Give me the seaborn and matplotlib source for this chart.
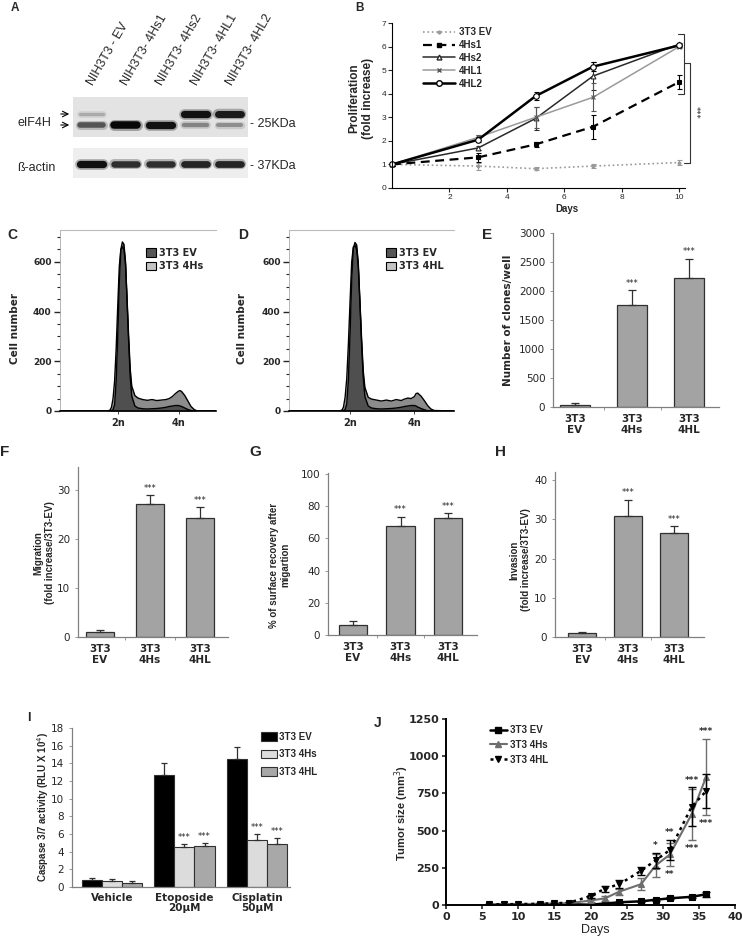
import numpy as np
import pandas as pd
import seaborn as sns
import matplotlib.pyplot as plt
from matplotlib.lines import Line2D
from matplotlib.patches import Patch
from matplotlib.ticker import MultipleLocator

# ---------------- data ----------------
# A: western blot, band intensity (0-1) per lane
blot_lanes = ['NIH3T3 - EV', 'NIH3T3- 4Hs1', 'NIH3T3- 4Hs2', 'NIH3T3- 4HL1', 'NIH3T3- 4HL2']
eif_upper = [0.15, 0.0, 0.0, 0.95, 0.9]
eif_lower = [0.6, 1.0, 0.95, 0.35, 0.3]
actin_band = [0.95, 0.8, 0.8, 0.85, 0.85]

# B: proliferation (fold increase)
prolif_days = [0, 3, 5, 7, 10]
prolif_ev = [1.0, 0.93, 0.82, 0.93, 1.08]
prolif_hs1 = [1.0, 1.3, 1.85, 2.6, 4.5]
prolif_hs2 = [1.0, 1.7, 2.95, 4.75, 6.1]
prolif_hl1 = [1.0, 2.15, 3.0, 3.85, 6.0]
prolif_hl2 = [1.0, 2.05, 3.9, 5.15, 6.05]
err_ev = [0.05, 0.15, 0.06, 0.08, 0.12]
err_hs1 = [0.05, 0.2, 0.12, 0.5, 0.3]
err_hs2 = [0.05, 0.08, 0.5, 0.6, 0.07]
err_hl1 = [0.05, 0.1, 0.45, 0.6, 0.08]
err_hl2 = [0.05, 0.1, 0.18, 0.2, 0.05]
prolif_names = ['3T3 EV', '4Hs1', '4Hs2', '4HL1', '4HL2']

# C, D: cell cycle profiles (DNA content channel -> cell number)
dna_channel = [0, 30, 32, 33, 34, 35, 36, 37, 38, 39, 40, 41, 42, 43, 44, 45, 46, 48, 50,
               53, 56, 59, 62, 65, 68, 70, 72, 74, 76, 77, 78, 80, 82, 84, 86, 88, 100]
cc_ev_c = [0, 0, 0, 2, 5, 25, 120, 300, 520, 650, 680, 670, 600, 440, 280, 140, 60, 20, 12,
           9, 8, 9, 10, 12, 15, 18, 20, 22, 22, 20, 18, 12, 6, 2, 0, 0, 0]
cc_hs = [0, 0, 3, 15, 50, 120, 250, 420, 580, 650, 660, 650, 590, 450, 300, 170, 100, 62, 52,
         46, 43, 46, 42, 44, 46, 50, 58, 70, 80, 82, 78, 62, 40, 18, 6, 0, 0]
cc_ev_d = [0, 0, 0, 2, 6, 28, 125, 310, 530, 655, 678, 668, 595, 430, 270, 135, 58, 20, 12,
           9, 8, 9, 10, 12, 15, 18, 20, 22, 22, 20, 16, 10, 5, 1, 0, 0, 0]
cc_hl = [0, 0, 3, 15, 55, 130, 270, 440, 600, 660, 665, 650, 580, 440, 290, 160, 95, 55, 48,
         44, 40, 44, 40, 46, 42, 48, 52, 50, 58, 70, 72, 60, 42, 22, 8, 2, 0]
cc_ticks = [37, 76]
cc_ticklabels = ['2n', '4n']

# E-H: bar panels
bar_labels = ['3T3\nEV', '3T3\n4Hs', '3T3\n4HL']
clones = [40, 1750, 2220]
clones_err = [30, 260, 330]
migration = [1.0, 27.0, 24.2]
migration_err = [0.4, 1.8, 2.2]
recovery = [6.5, 67.5, 72.5]
recovery_err = [2.0, 6.0, 3.0]
invasion = [1.0, 31.0, 26.5]
invasion_err = [0.3, 4.0, 1.7]
bar_stars = ['', '***', '***']

# I: caspase 3/7 activity
casp_groups = ['Vehicle', 'Etoposide\n20µM', 'Cisplatin\n50µM']
casp_lines = ['3T3 EV', '3T3 4Hs', '3T3 4HL']
casp_ev = [0.75, 12.7, 14.5]
casp_hs = [0.65, 4.5, 5.35]
casp_hl = [0.5, 4.6, 4.9]
casp_ev_err = [0.25, 1.35, 1.3]
casp_hs_err = [0.3, 0.35, 0.65]
casp_hl_err = [0.15, 0.35, 0.65]
casp_stars = ['', '***', '***']

# J: tumor growth
tumor_days = [6, 8, 10, 13, 15, 17, 20, 22, 24, 27, 29, 31, 34, 36]
tumor_ev = [0, 2, 3, 3, 4, 5, 2, 10, 18, 25, 35, 45, 55, 72]
tumor_hs = [5, 5, 6, 8, 10, 12, 30, 45, 90, 140, 265, 340, 610, 860]
tumor_hl = [5, 5, 6, 8, 12, 15, 60, 110, 140, 230, 300, 370, 660, 765]
tumor_ev_err = [0, 0, 0, 0, 0, 0, 0, 3, 4, 5, 6, 6, 8, 15]
tumor_hs_err = [2, 2, 2, 3, 4, 5, 10, 15, 20, 40, 80, 80, 170, 255]
tumor_hl_err = [2, 2, 2, 3, 4, 5, 10, 20, 25, 28, 50, 68, 130, 115]
tumor_sig_days = [29, 31, 34, 36]
tumor_sig_up = ['*', '**', '***', '***']
tumor_sig_down = ['', '**', '***', '***']

# ---------------- figure ----------------
sns.set_style('ticks')
plt.rcParams['font.family'] = ['DejaVu Sans']
ARIAL = ['Liberation Sans', 'DejaVu Sans']

W, H = 743, 940
fig = plt.figure(figsize=(W / 100, H / 100), dpi=100)


def box(x0, y0, x1, y1):
    return fig.add_axes([x0 / W, 1 - y1 / H, (x1 - x0) / W, (y1 - y0) / H])


over = fig.add_axes([0, 0, 1, 1], zorder=10)
over.set_xlim(0, W)
over.set_ylim(H, 0)
over.axis('off')


def txt(x, y, s, size=8, weight='normal', family=ARIAL, rot=0, ha='center', va='center'):
    over.text(x, y, s, fontsize=size, fontweight=weight, family=family, rotation=rot,
              ha=ha, va=va, linespacing=1.15)


def anchor(px, py):
    return dict(bbox_to_anchor=(px / W, 1 - py / H), bbox_transform=fig.transFigure)


# panel letters
for letter, x, y, size in [('A', 15, 8, 8.5), ('B', 360, 8, 8.5), ('C', 12, 235, 10),
                           ('D', 243, 235, 10), ('E', 487, 235, 11), ('F', 5, 452, 11),
                           ('G', 255, 452, 11), ('H', 500, 452, 11), ('I', 29, 718, 9),
                           ('J', 378, 723, 10)]:
    txt(x, y, letter, size=size, weight='bold')

# ---- A: western blot
axA1 = box(73, 97, 248, 137)
axA2 = box(73, 148, 248, 178)
for ax, bands, bg in ((axA1, [(0.43, eif_upper), (0.70, eif_lower)], '#e3e3e3'),
                      (axA2, [(0.53, actin_band)], '#eeeeee')):
    ax.set_xlim(-0.52, 4.52)
    ax.set_ylim(1, 0)
    ax.set_facecolor(bg)
    for y, inten in bands:
        for i, v in enumerate(inten):
            if v <= 0:
                continue
            shade = str(0.78 - 0.75 * v)
            lw = 1.8 + 3.6 * v
            ax.plot([i - 0.33, i + 0.33], [y, y], color=shade, lw=lw + 2.5, alpha=0.3,
                    solid_capstyle='round')
            ax.plot([i - 0.33, i + 0.33], [y, y], color=shade, lw=lw, solid_capstyle='round')
    ax.set_xticks([])
    ax.set_yticks([])
    for s in ax.spines.values():
        s.set_visible(False)
for i, name in enumerate(blot_lanes):
    axA1.text(i + 0.12, 1.25, name, transform=axA1.get_xaxis_transform(), rotation=60,
              rotation_mode='anchor', ha='left', va='bottom', fontsize=9, family=ARIAL)
txt(17, 123, 'eIF4H', size=9, ha='left')
txt(17, 168, 'ß-actin', size=9, ha='left')
for y in (114, 125):
    over.annotate('', xy=(72, y), xytext=(58, y),
                  arrowprops=dict(arrowstyle='->', lw=0.8, color='black'))
txt(250, 124, '- 25KDa', size=9, ha='left')
txt(250, 166, '- 37KDa', size=9, ha='left')

# ---- B: proliferation
axB = box(392, 23, 685, 188)
b_styles = [
    dict(color='#9a9a9a', ls=':', lw=1.2, marker='o', ms=2, mfc='#9a9a9a', mec='#9a9a9a'),
    dict(color='black', ls=(0, (4, 2.5)), lw=1.6, marker='s', ms=2.5, mfc='black', mec='black'),
    dict(color='#2a2a2a', ls='-', lw=1.1, marker='^', ms=3.5, mfc='white', mec='#2a2a2a'),
    dict(color='#9a9a9a', ls='-', lw=1.1, marker='x', ms=3, mfc='#9a9a9a', mec='#555555'),
    dict(color='black', ls='-', lw=1.8, marker='o', ms=4, mfc='white', mec='black'),
]
b_vals = [prolif_ev, prolif_hs1, prolif_hs2, prolif_hl1, prolif_hl2]
b_errs = [err_ev, err_hs1, err_hs2, err_hl1, err_hl2]
for vals, errs, st in zip(b_vals, b_errs, b_styles):
    axB.errorbar(prolif_days, vals, yerr=errs, fmt='none', ecolor=st['mec'], elinewidth=0.8,
                 capsize=1.8, capthick=0.8, clip_on=False)
    sns.lineplot(x=prolif_days, y=vals, ax=axB, clip_on=False, mew=0.8, **st)
axB.set_xlim(0, 10.2)
axB.set_ylim(0, 7)
axB.set_xticks([2, 4, 6, 8, 10])
axB.set_yticks(range(8))
sns.despine(ax=axB)
for s in ('left', 'bottom'):
    axB.spines[s].set_color('black')
    axB.spines[s].set_linewidth(0.8)
axB.tick_params(length=3, width=0.8, labelsize=6, pad=1)
for t in axB.get_xticklabels() + axB.get_yticklabels():
    t.set_family(ARIAL)
axB.legend([Line2D([], [], **st) for st in b_styles], prolif_names, loc='upper left',
           frameon=False, prop=dict(family=ARIAL, weight='bold', size=7), handlelength=3.3,
           handletextpad=0.4, labelspacing=0.3, borderpad=0, borderaxespad=0, **anchor(423, 27))
top1 = max(v[-1] for v in b_vals) + 0.45
low1 = prolif_hs1[-1] - 0.5
axB.plot([9.97, 10.17, 10.17, 9.97], [top1, top1, low1, low1], color='#333333', lw=0.8,
         clip_on=False)
top2 = prolif_hs1[-1] + 0.8
low2 = prolif_ev[-1]
axB.plot([10.17, 10.38, 10.38, 10.17], [top2, top2, low2, low2], color='#333333', lw=0.8,
         clip_on=False)
axB.text(10.55, (top2 + low2) / 2, '***', rotation=270, ha='center', va='center', fontsize=6)
axB.set_ylabel('')
txt(361, 98, 'Proliferation\n(fold increase)', size=8.5, weight='bold', rot=90)
txt(567, 209, 'Days', size=7, weight='bold')

# ---- C, D: cell cycle
cc_panels = [((60, 230, 216, 411), cc_ev_c, cc_hs, '3T3 4Hs', 147, 15),
             ((289, 230, 454, 411), cc_ev_d, cc_hl, '3T3 4HL', 387, 242)]
for rect, ev, other, name, leg_x, lab_x in cc_panels:
    ax = box(*rect)
    ax.fill_between(dna_channel, other, color='#8c8c8c', lw=0)
    sns.lineplot(x=dna_channel, y=other, color='black', lw=1, ax=ax)
    ax.fill_between(dna_channel, ev, color='#4f4f4f', lw=0)
    sns.lineplot(x=dna_channel, y=ev, color='black', lw=1, ax=ax)
    ax.set_xlim(0, 100)
    ax.set_ylim(0, 728)
    ax.set_xticks(cc_ticks)
    ax.set_xticklabels(cc_ticklabels, fontweight='bold', fontsize=7)
    ax.set_yticks([0, 200, 400, 600])
    ax.yaxis.set_minor_locator(MultipleLocator(50))
    ax.tick_params(axis='y', which='major', length=4, width=1, labelsize=6.5, pad=2)
    ax.tick_params(axis='y', which='minor', length=2.5, width=0.8)
    ax.tick_params(axis='x', length=2, width=0.6, pad=3)
    for t in ax.get_yticklabels():
        t.set_fontweight('bold')
    ax.spines['right'].set_visible(False)
    ax.spines['top'].set_color('#bbbbbb')
    ax.spines['top'].set_linewidth(0.8)
    ax.spines['left'].set_color('#999999')
    ax.spines['left'].set_linewidth(0.5)
    ax.spines['bottom'].set_color('black')
    ax.spines['bottom'].set_linewidth(1.2)
    ax.legend([Patch(facecolor='#555555', edgecolor='black', lw=0.8),
               Patch(facecolor='#c4c4c4', edgecolor='black', lw=0.8)],
              ['3T3 EV', name], loc='upper left', frameon=False,
              prop=dict(weight='bold', size=7), handlelength=1.0, handleheight=1.0,
              handletextpad=0.3, labelspacing=0.35, borderpad=0, borderaxespad=0,
              **anchor(leg_x - 1, 248))
    txt(lab_x, 328, 'Cell number', size=7.5, weight='bold', family='DejaVu Sans', rot=90)


# ---- E-H: bar panels
def bar_panel(rect, vals, errs, ymax, ystep, xlim, width):
    ax = box(*rect)
    sns.barplot(x=bar_labels, y=vals, color='#a3a3a3', edgecolor='#303030', linewidth=0.9,
                width=width, errorbar=None, ax=ax)
    n = len(vals)
    ax.errorbar(range(n), vals, yerr=[[0] * n, errs], fmt='none', ecolor='#303030',
                elinewidth=0.9, capsize=3, capthick=0.9)
    for i, (v, e, s) in enumerate(zip(vals, errs, bar_stars)):
        if s:
            ax.annotate(s, (i, v + e), xytext=(0, 2), textcoords='offset points',
                        ha='center', va='bottom', fontsize=6)
    ax.set_xlim(*xlim)
    ax.set_ylim(0, ymax)
    ax.yaxis.set_major_locator(MultipleLocator(ystep))
    ax.set_xticks(range(n))
    ax.set_xticklabels(bar_labels, fontweight='bold', fontsize=7.5, linespacing=1.1)
    ax.set_xticks([0.5, 1.5], minor=True)
    ax.tick_params(axis='x', which='major', length=0, pad=5)
    ax.tick_params(axis='x', which='minor', length=2, width=0.6, color='#888888')
    ax.tick_params(axis='y', length=2.5, width=0.6, color='#888888', labelsize=7.5, pad=3)
    sns.despine(ax=ax)
    for s in ('left', 'bottom'):
        ax.spines[s].set_color('#808080')
        ax.spines[s].set_linewidth(0.9)
    ax.set_xlabel('')
    ax.set_ylabel('')
    return ax


bar_panel((553, 233, 719, 407), clones, clones_err, 3000, 500, (-0.386, 2.526), 0.51)
txt(508, 320, 'Number of clones/well', size=7.5, weight='bold', family='DejaVu Sans', rot=90)
bar_panel((78, 467, 228, 637), migration, migration_err, 34.6, 10, (-0.44, 2.56), 0.56)
txt(44, 553, 'Migration\n(fold increase/3T3-EV)', size=7, weight='bold', rot=90)
bar_panel((328, 473, 477, 635), recovery, recovery_err, 100.5, 20, (-0.526, 2.61), 0.59)
txt(280, 565, '% of surface recovery after\nmigartion', size=7, weight='bold', rot=90)
bar_panel((555, 472, 704, 637), invasion, invasion_err, 42.1, 10, (-0.59, 2.65), 0.6)
txt(520, 560, 'Invasion\n(fold increase/3T3-EV)', size=7, weight='bold', rot=90)

# ---- I: caspase activity
axI = box(72, 728, 290, 887)
casp_df = pd.DataFrame({
    'treatment': casp_groups * 3,
    'line': np.repeat(casp_lines, len(casp_groups)),
    'activity': casp_ev + casp_hs + casp_hl,
})
casp_colors = ['#000000', '#dcdcdc', '#a8a8a8']
sns.barplot(data=casp_df, x='treatment', y='activity', hue='line', hue_order=casp_lines,
            palette=casp_colors, width=0.83, edgecolor='#303030', linewidth=0.8,
            errorbar=None, legend=False, ax=axI)
bw = 0.83 / 3
for k, (vals, errs) in enumerate([(casp_ev, casp_ev_err), (casp_hs, casp_hs_err),
                                  (casp_hl, casp_hl_err)]):
    xs = [i + (k - 1) * bw for i in range(len(vals))]
    axI.errorbar(xs, vals, yerr=[[0] * len(vals), errs], fmt='none', ecolor='#303030',
                 elinewidth=0.9, capsize=2.5, capthick=0.9)
    if k > 0:
        for x, v, e, s in zip(xs, vals, errs, casp_stars):
            if s:
                axI.annotate(s, (x, v + e), xytext=(0, 1.5), textcoords='offset points',
                             ha='center', va='bottom', fontsize=6)
axI.set_xlim(-0.55, 2.455)
axI.set_ylim(0, 18)
axI.yaxis.set_major_locator(MultipleLocator(2))
axI.set_xticks(range(3))
axI.set_xticklabels(casp_groups, fontweight='bold', fontsize=7.5, linespacing=1.1)
axI.tick_params(axis='x', length=0, pad=4)
axI.tick_params(axis='y', length=2.5, width=0.6, color='#888888', labelsize=7.5, pad=3)
sns.despine(ax=axI)
for s in ('left', 'bottom'):
    axI.spines[s].set_color('#808080')
    axI.spines[s].set_linewidth(0.9)
axI.set_xlabel('')
axI.set_ylabel('')
axI.legend([Patch(facecolor=c, edgecolor='#303030', lw=0.8) for c in casp_colors], casp_lines,
           loc='upper left', frameon=False, prop=dict(family=ARIAL, weight='bold', size=7),
           handlelength=1.6, handleheight=1.0, handletextpad=0.3, labelspacing=0.75,
           borderpad=0, borderaxespad=0, **anchor(261, 732))
txt(43, 807, 'Caspase 3/7 activity (RLU X 10$^4$)', size=7, weight='bold', rot=90)

# ---- J: tumor size
axJ = box(446, 719, 735, 905)
j_series = [
    (tumor_ev, tumor_ev_err, dict(color='black', ls='-', lw=1.8, marker='s', ms=4,
                                  mfc='black', mec='black')),
    (tumor_hs, tumor_hs_err, dict(color='#6e6e6e', ls='-', lw=1.5, marker='^', ms=4,
                                  mfc='#6e6e6e', mec='#6e6e6e')),
    (tumor_hl, tumor_hl_err, dict(color='black', ls=(0, (1.2, 1.6)), lw=1.8, marker='v', ms=4,
                                  mfc='black', mec='black')),
]
for vals, errs, st in j_series:
    axJ.errorbar(tumor_days, vals, yerr=errs, fmt='none', ecolor=st['color'],
                 elinewidth=1.0, capsize=3, capthick=1.0)
    sns.lineplot(x=tumor_days, y=vals, ax=axJ, mew=0.8, **st)
for d, up, down in zip(tumor_sig_days, tumor_sig_up, tumor_sig_down):
    i = tumor_days.index(d)
    hi = max(tumor_hs[i] + tumor_hs_err[i], tumor_hl[i] + tumor_hl_err[i])
    lo = min(tumor_hs[i] - tumor_hs_err[i], tumor_hl[i] - tumor_hl_err[i])
    axJ.annotate(up, (d, hi), xytext=(0, 2), textcoords='offset points', ha='center',
                 va='bottom', fontsize=6.5, fontweight='bold')
    if down:
        axJ.annotate(down, (d, lo), xytext=(0, -3), textcoords='offset points', ha='center',
                     va='top', fontsize=6.5, fontweight='bold')
axJ.set_xlim(0, 40)
axJ.set_ylim(0, 1250)
axJ.xaxis.set_major_locator(MultipleLocator(5))
axJ.yaxis.set_major_locator(MultipleLocator(250))
sns.despine(ax=axJ)
for s in ('left', 'bottom'):
    axJ.spines[s].set_color('black')
    axJ.spines[s].set_linewidth(1.4)
axJ.tick_params(length=3, width=1.2, labelsize=8, pad=2)
for t in axJ.get_xticklabels() + axJ.get_yticklabels():
    t.set_fontweight('bold')
axJ.legend([Line2D([], [], **st) for _, _, st in j_series], casp_lines, loc='upper left',
           frameon=False, prop=dict(family=ARIAL, weight='bold', size=7), handlelength=1.7,
           handletextpad=0.4, labelspacing=0.5, borderpad=0, borderaxespad=0,
           **anchor(490, 725))
txt(402, 813, 'Tumor size (mm$^3$)', size=8, weight='bold', rot=90)
txt(595, 930, 'Days', size=9)

fig.savefig('out.png', dpi=100)
